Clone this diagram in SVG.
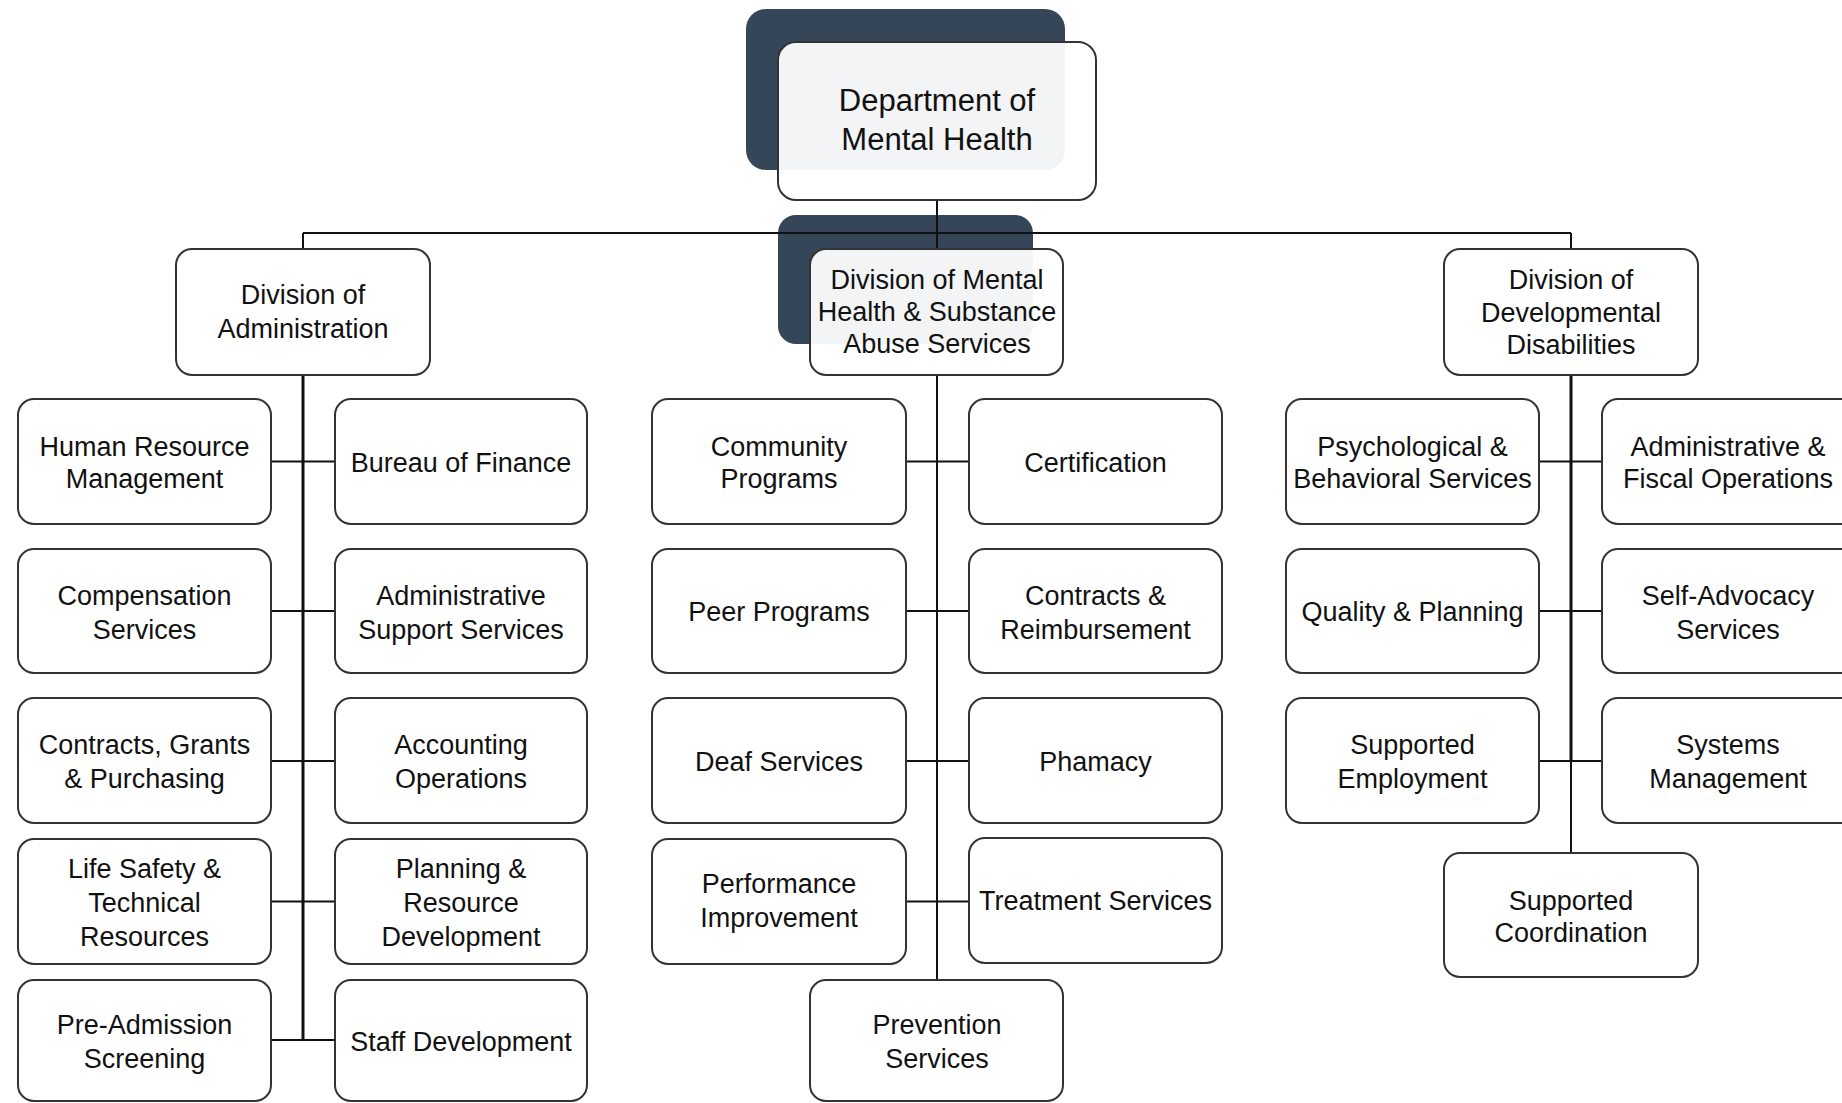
<svg xmlns="http://www.w3.org/2000/svg" width="1842" height="1103" viewBox="0 0 1842 1103">
<style>
.box{fill:#ffffff;fill-opacity:0.94;stroke:#333333;stroke-width:2}
.shadow{fill:#364659}
.line{stroke:#111111;stroke-width:2;fill:none}
.trunk{stroke:#111111;stroke-width:3;fill:none}
text{font-family:"Liberation Sans",Arial,sans-serif;font-size:27px;fill:#111111;text-anchor:middle}
.big{font-size:31px}
</style>
<rect width="1842" height="1103" fill="#ffffff"/>
<g id="shadows">
<rect class="shadow" x="746" y="9" width="319" height="161" rx="20"/>
<rect class="shadow" x="778" y="215" width="255" height="129" rx="18"/>
</g>
<g id="connectors">
<path class="line" d="M937 200 V249 M303 233 H1571 M303 233 V249 M1571 233 V249"/>
<path class="trunk" d="M303 375 V1040"/>
<path class="line" d="M271 461.5 H335 M271 611 H335 M271 761 H335 M271 901.5 H335 M271 1040 H335"/>
<path class="line" d="M937 375 V980"/>
<path class="line" d="M906 461.5 H969 M906 611 H969 M906 761 H969 M906 901.5 H969"/>
<path class="trunk" d="M1571 375 V761"/>
<path class="line" d="M1571 761 V853"/>
<path class="line" d="M1539 461.5 H1602 M1539 611 H1602 M1539 761 H1602"/>
</g>
<g id="dept"><rect class="box" x="778" y="42" width="318" height="158" rx="18"/><text class="big" x="937" y="111">Department of</text><text class="big" x="937" y="150">Mental Health</text></g>
<g id="div-admin"><rect class="box" x="176" y="249" width="254" height="126" rx="16"/><text x="303" y="304">Division of</text><text x="303" y="338">Administration</text></g>
<g id="div-mh"><rect class="box" x="810" y="249" width="253" height="126" rx="16"/><text x="937" y="289">Division of Mental</text><text x="937" y="321">Health &amp; Substance</text><text x="937" y="353">Abuse Services</text></g>
<g id="div-dd"><rect class="box" x="1444" y="249" width="254" height="126" rx="16"/><text x="1571" y="289">Division of</text><text x="1571" y="322">Developmental</text><text x="1571" y="354">Disabilities</text></g>

<g id="hr"><rect class="box" x="18" y="399" width="253" height="125" rx="16"/><text x="144.5" y="456">Human Resource</text><text x="144.5" y="488">Management</text></g>
<g id="bof"><rect class="box" x="335" y="399" width="252" height="125" rx="16"/><text x="461" y="472">Bureau of Finance</text></g>
<g id="comp"><rect class="box" x="18" y="549" width="253" height="124" rx="16"/><text x="144.5" y="605">Compensation</text><text x="144.5" y="639">Services</text></g>
<g id="adminsupport"><rect class="box" x="335" y="549" width="252" height="124" rx="16"/><text x="461" y="605">Administrative</text><text x="461" y="639">Support Services</text></g>
<g id="cgp"><rect class="box" x="18" y="698" width="253" height="125" rx="16"/><text x="144.5" y="754">Contracts, Grants</text><text x="144.5" y="788">&amp; Purchasing</text></g>
<g id="acct"><rect class="box" x="335" y="698" width="252" height="125" rx="16"/><text x="461" y="754">Accounting</text><text x="461" y="788">Operations</text></g>
<g id="lifesafety"><rect class="box" x="18" y="839" width="253" height="125" rx="16"/><text x="144.5" y="878">Life Safety &amp;</text><text x="144.5" y="912">Technical</text><text x="144.5" y="946">Resources</text></g>
<g id="planres"><rect class="box" x="335" y="839" width="252" height="125" rx="16"/><text x="461" y="878">Planning &amp;</text><text x="461" y="912">Resource</text><text x="461" y="946">Development</text></g>
<g id="preadm"><rect class="box" x="18" y="980" width="253" height="121" rx="16"/><text x="144.5" y="1034">Pre-Admission</text><text x="144.5" y="1068">Screening</text></g>
<g id="staffdev"><rect class="box" x="335" y="980" width="252" height="121" rx="16"/><text x="461" y="1051">Staff Development</text></g>

<g id="community"><rect class="box" x="652" y="399" width="254" height="125" rx="16"/><text x="779" y="456">Community</text><text x="779" y="488">Programs</text></g>
<g id="cert"><rect class="box" x="969" y="399" width="253" height="125" rx="16"/><text x="1095.5" y="472">Certification</text></g>
<g id="peer"><rect class="box" x="652" y="549" width="254" height="124" rx="16"/><text x="779" y="621">Peer Programs</text></g>
<g id="contracts"><rect class="box" x="969" y="549" width="253" height="124" rx="16"/><text x="1095.5" y="605">Contracts &amp;</text><text x="1095.5" y="639">Reimbursement</text></g>
<g id="deaf"><rect class="box" x="652" y="698" width="254" height="125" rx="16"/><text x="779" y="771">Deaf Services</text></g>
<g id="pharmacy"><rect class="box" x="969" y="698" width="253" height="125" rx="16"/><text x="1095.5" y="771">Phamacy</text></g>
<g id="perf"><rect class="box" x="652" y="839" width="254" height="125" rx="16"/><text x="779" y="893">Performance</text><text x="779" y="927">Improvement</text></g>
<g id="treatment"><rect class="box" x="969" y="838" width="253" height="125" rx="16"/><text x="1095.5" y="910">Treatment Services</text></g>
<g id="prevention"><rect class="box" x="810" y="980" width="253" height="121" rx="16"/><text x="937" y="1034">Prevention</text><text x="937" y="1068">Services</text></g>

<g id="psych"><rect class="box" x="1286" y="399" width="253" height="125" rx="16"/><text x="1412.5" y="456">Psychological  &amp;</text><text x="1412.5" y="488">Behavioral Services</text></g>
<g id="adminfiscal"><rect class="box" x="1602" y="399" width="254" height="125" rx="16"/><text x="1728" y="456">Administrative &amp;</text><text x="1728" y="488">Fiscal Operations</text></g>
<g id="quality"><rect class="box" x="1286" y="549" width="253" height="124" rx="16"/><text x="1412.5" y="621">Quality &amp; Planning</text></g>
<g id="selfadv"><rect class="box" x="1602" y="549" width="254" height="124" rx="16"/><text x="1728" y="605">Self-Advocacy</text><text x="1728" y="639">Services</text></g>
<g id="suppemp"><rect class="box" x="1286" y="698" width="253" height="125" rx="16"/><text x="1412.5" y="754">Supported</text><text x="1412.5" y="788">Employment</text></g>
<g id="sysmgmt"><rect class="box" x="1602" y="698" width="254" height="125" rx="16"/><text x="1728" y="754">Systems</text><text x="1728" y="788">Management</text></g>
<g id="suppcoord"><rect class="box" x="1444" y="853" width="254" height="124" rx="16"/><text x="1571" y="910">Supported</text><text x="1571" y="942">Coordination</text></g>
</svg>
